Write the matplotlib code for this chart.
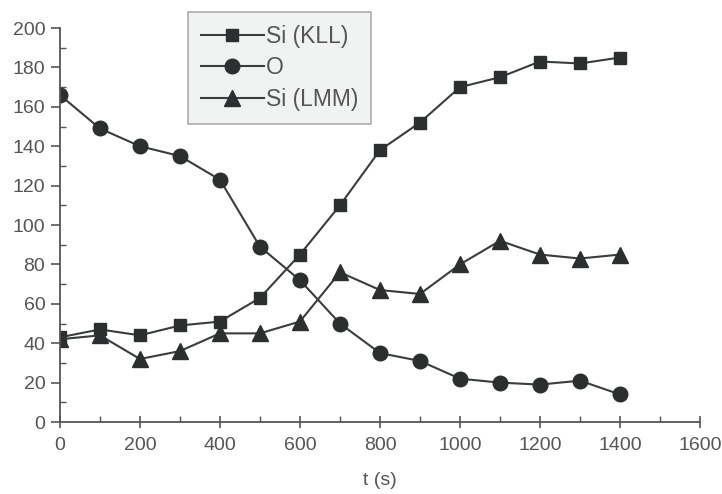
import numpy as np
import matplotlib.pyplot as plt
from matplotlib.ticker import MultipleLocator

# depth profile data
t = [0, 100, 200, 300, 400, 500, 600, 700, 800, 900, 1000, 1100, 1200, 1300, 1400]
si_kll = [43, 47, 44, 49, 51, 63, 85, 110, 138, 152, 170, 175, 183, 182, 185]
o = [166, 149, 140, 135, 123, 89, 72, 50, 35, 31, 22, 20, 19, 21, 14]
si_lmm = [42, 44, 32, 36, 45, 45, 51, 76, 67, 65, 80, 92, 85, 83, 85]

line_c = '#3a3d3d'
mark_c = '#2b2f2f'
text_c = '#555555'

plt.rcParams['font.family'] = ['Liberation Sans', 'DejaVu Sans']

fig = plt.figure(figsize=(7.22, 4.94), dpi=100)
ax = fig.add_axes([0.083, 0.1457, 0.8865, 0.7976])

ax.plot(t, si_kll, '-s', color=line_c, mfc=mark_c, mec=mark_c, lw=1.5, ms=9, label='Si (KLL)')
ax.plot(t, o, '-o', color=line_c, mfc=mark_c, mec=mark_c, lw=1.5, ms=10.5, label='O')
ax.plot(t, si_lmm, '-^', color=line_c, mfc=mark_c, mec=mark_c, lw=1.5, ms=11, label='Si (LMM)')

ax.set_xlim(0, 1600)
ax.set_ylim(0, 200)
ax.xaxis.set_major_locator(MultipleLocator(200))
ax.xaxis.set_minor_locator(MultipleLocator(100))
ax.yaxis.set_major_locator(MultipleLocator(20))
ax.yaxis.set_minor_locator(MultipleLocator(10))

for s in ['top', 'right']:
    ax.spines[s].set_visible(False)
for s in ['left', 'bottom']:
    ax.spines[s].set_color('#555555')
    ax.spines[s].set_linewidth(1.3)

ax.tick_params(axis='y', which='major', direction='out', length=6.5, width=1.2,
               color='#555555', labelcolor=text_c, labelsize=14, pad=4)
ax.tick_params(axis='y', which='minor', direction='in', length=4, width=1.0, color='#555555')
ax.tick_params(axis='x', which='major', direction='inout', length=8, width=1.2,
               color='#555555', labelcolor=text_c, labelsize=14, pad=7)
ax.tick_params(axis='x', which='minor', direction='in', length=4, width=1.0, color='#555555')

ax.set_xlabel('t (s)', color=text_c, fontsize=14, labelpad=13)

leg = ax.legend(loc='upper left', bbox_to_anchor=(0.2, 1.0406), fontsize=16.5,
                frameon=True, fancybox=False, handlelength=2.75, handletextpad=0.12,
                borderpad=0.55, labelspacing=0.38, borderaxespad=0)
leg.get_frame().set_facecolor('#eef0f1')
leg.get_frame().set_edgecolor('#999999')
leg.get_frame().set_linewidth(1.2)
for txt in leg.get_texts():
    txt.set_color(text_c)

fig.savefig('out.png', dpi=100)
